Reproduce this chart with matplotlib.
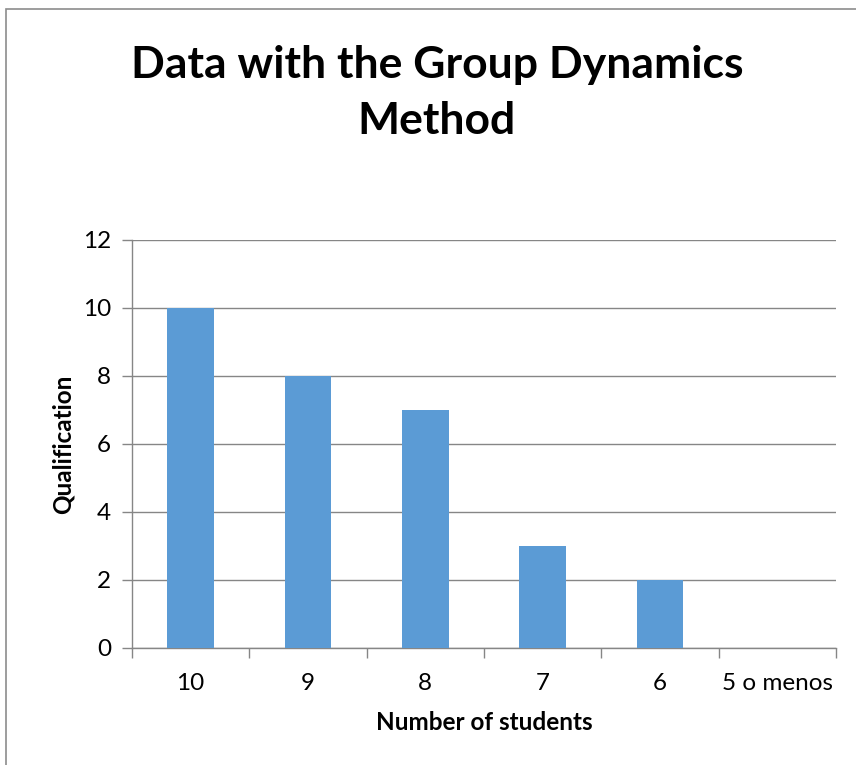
import matplotlib
matplotlib.use("Agg")
import matplotlib.pyplot as plt
from matplotlib.patches import Rectangle

categories = ["10", "9", "8", "7", "6", "5 o menos"]
values = [10, 8, 7, 3, 2, 0]
yticks = [0, 2, 4, 6, 8, 10, 12]

title = "Data with the Group Dynamics\nMethod"
xlabel = "Number of students"
ylabel = "Qualification"

plt.rcParams['font.family'] = ['Lato', 'DejaVu Sans']

W, H = 856, 765
fig = plt.figure(figsize=(W/100, H/100), dpi=100)
fig.patch.set_facecolor("white")

# chart border (grey) starting at left/top
fig.add_artist(Rectangle((6/W, -0.1), 1.2, 1 - 9/H + 0.1, transform=fig.transFigure,
                         fill=False, edgecolor="#8c8c8c", linewidth=1.2))

ax = fig.add_axes([132/W, 1 - 648/H, (836-132)/W, (648-240)/H])
x = list(range(len(categories)))
ax.bar(x, values, width=0.4, color="#5B9BD5", zorder=3)
ax.set_xlim(-0.5, len(categories) - 0.5)
ax.set_ylim(0, 12)
ax.set_yticks(yticks)
ax.set_yticklabels([str(v) for v in yticks], fontsize=17.5)
ax.yaxis.grid(True, color="#868686", linewidth=1.0, zorder=0)
ax.set_xticks(x)
ax.set_xticklabels(categories, fontsize=17.5)
ax.tick_params(axis="x", length=0, pad=18)
ax.set_xticks([i - 0.5 for i in range(len(categories) + 1)], minor=True)
ax.tick_params(axis="x", which="minor", length=7, color="#868686", width=1.0)
ax.tick_params(axis="y", length=7, color="#868686", width=1.0, pad=8)
for s in ["top", "right"]:
    ax.spines[s].set_visible(False)
for s in ["left", "bottom"]:
    ax.spines[s].set_color("#868686")
    ax.spines[s].set_linewidth(1.0)

ax.set_xlabel(xlabel, fontsize=17.5, fontweight="bold", labelpad=12)
ax.set_ylabel(ylabel, fontsize=17.5, fontweight="bold", labelpad=6)

fig.text(437/W, 1 - 93/H, title, ha="center", va="center", fontsize=32,
         fontweight="bold", linespacing=1.5)

fig.savefig("out.png", dpi=100)
